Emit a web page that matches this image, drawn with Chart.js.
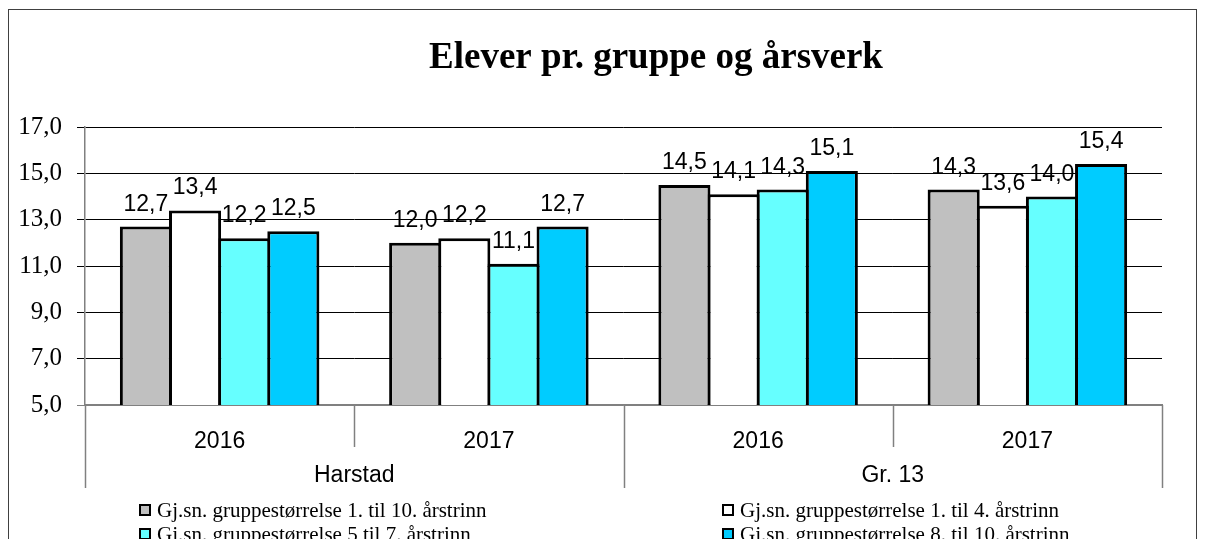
<!DOCTYPE html>
<html>
<head>
<meta charset="utf-8">
<script src="https://cdn.jsdelivr.net/npm/chart.js@4/dist/chart.umd.min.js"></script>
<style>
  html, body { margin: 0; padding: 0; background: #fff; }
  #wrap { width: 1206px; height: 539px; position: relative; }
</style>
</head>
<body>
<div id="wrap"><canvas id="c" width="1206" height="539"></canvas></div>
<script>
// ---- data ----
const categories = ['2016', '2017', '2016', '2017'];
const groups = ['Harstad', 'Harstad', 'Gr. 13', 'Gr. 13'];
const seriesNames = [
  'Gj.sn. gruppestørrelse 1. til 10. årstrinn',
  'Gj.sn. gruppestørrelse 1. til 4. årstrinn',
  'Gj.sn. gruppestørrelse 5 til 7. årstrinn',
  'Gj.sn. gruppestørrelse 8. til 10. årstrinn'
];
const grades1to10 = [12.7, 12.0, 14.5, 14.3];
const grades1to4  = [13.4, 12.2, 14.1, 13.6];
const grades5to7  = [12.2, 11.1, 14.3, 14.0];
const grades8to10 = [12.5, 12.7, 15.1, 15.4];
const yTicks = [5, 7, 9, 11, 13, 15, 17];
const titleText = 'Elever pr. gruppe og årsverk';

const colors = ['#C0C0C0', '#FFFFFF', '#66FFFF', '#00CCFF'];
const fmt = v => v.toFixed(1).replace('.', ',');

const SERIF = '"Liberation Serif", "Times New Roman", serif';
const SANS = '"Liberation Sans", Arial, sans-serif';

const decor = {
  id: 'decor',
  beforeDraw(chart) {
    const ctx = chart.ctx;
    ctx.save();
    ctx.fillStyle = '#fff';
    ctx.fillRect(0, 0, chart.width, chart.height);
    ctx.strokeStyle = '#404040';
    ctx.lineWidth = 1;
    ctx.strokeRect(8.5, 9.5, 1188, 600);
    // title
    ctx.fillStyle = '#000';
    ctx.font = 'bold 37px ' + SERIF;
    ctx.textAlign = 'center';
    ctx.textBaseline = 'alphabetic';
    ctx.fillText(titleText, 656, 68);
    ctx.restore();
  },
  afterDatasetsDraw(chart) {
    const ctx = chart.ctx;
    ctx.save();
    ctx.fillStyle = '#000';
    ctx.font = '23px ' + SANS;
    ctx.textAlign = 'center';
    ctx.textBaseline = 'alphabetic';
    chart.data.datasets.forEach((ds, di) => {
      const meta = chart.getDatasetMeta(di);
      meta.data.forEach((el, i) => {
        ctx.fillText(fmt(ds.data[i]), el.x, el.y - 16);
      });
    });
    ctx.restore();
  },
  afterDraw(chart) {
    const ctx = chart.ctx;
    const xs = chart.scales.x;
    const n = categories.length;
    const cw = (xs.right - xs.left) / n;
    const top = chart.chartArea.bottom;
    ctx.save();
    // separators
    ctx.strokeStyle = '#808080';
    ctx.lineWidth = 1.5;
    for (let i = 0; i <= n; i++) {
      const x = Math.round(xs.left + i * cw) + 0.5;
      const long = (i === 0 || i === n || groups[i] !== groups[i - 1]);
      ctx.beginPath();
      ctx.moveTo(x, top);
      ctx.lineTo(x, long ? 488 : 447);
      ctx.stroke();
    }
    // group labels
    ctx.fillStyle = '#000';
    ctx.font = '23px ' + SANS;
    ctx.textAlign = 'center';
    ctx.textBaseline = 'middle';
    let start = 0;
    for (let i = 1; i <= n; i++) {
      if (i === n || groups[i] !== groups[start]) {
        const cx = xs.left + ((start + i) / 2) * cw;
        ctx.fillText(groups[start], cx, 476);
        start = i;
      }
    }
    // legend (two columns)
    const cols = [139, 722];
    const rows = [510, 534];
    ctx.font = '21px ' + SERIF;
    ctx.textAlign = 'left';
    ctx.textBaseline = 'middle';
    seriesNames.forEach((name, k) => {
      const bx = cols[k % 2];
      const by = rows[Math.floor(k / 2)];
      ctx.fillStyle = colors[k];
      ctx.fillRect(bx, by - 6, 12, 12);
      ctx.strokeStyle = '#000';
      ctx.lineWidth = 2;
      ctx.strokeRect(bx + 1, by - 5, 10, 10);
      ctx.fillStyle = '#000';
      ctx.fillText(name, bx + 18, by + 1);
    });
    ctx.restore();
  }
};

const datasets = [grades1to10, grades1to4, grades5to7, grades8to10].map((d, k) => ({
  label: seriesNames[k],
  data: d,
  backgroundColor: colors[k],
  borderColor: '#000',
  borderWidth: 3,
  borderSkipped: 'bottom',
  barPercentage: 1.06,
  categoryPercentage: 0.73
}));

new Chart(document.getElementById('c'), {
  type: 'bar',
  data: { labels: categories, datasets },
  options: {
    responsive: false,
    animation: false,
    events: [],
    layout: { padding: { top: 127, left: 0, right: 44, bottom: 0 } },
    plugins: { legend: { display: false }, title: { display: false }, tooltip: { enabled: false } },
    scales: {
      x: {
        grid: { display: false },
        border: { display: true, color: '#808080', width: 1.5 },
        ticks: { color: '#000', font: { family: SANS, size: 23 }, padding: 15, maxRotation: 0 },
        afterFit(s) { s.height = 134; }
      },
      y: {
        min: 5, max: 17,
        afterBuildTicks(s) { s.ticks = yTicks.map(v => ({ value: v })); },
        grid: {
          color: c => (c.tick && c.tick.value === 5) ? '#808080' : '#000',
          lineWidth: 1,
          tickLength: 8
        },
        border: { display: true, color: '#808080', width: 1.5 },
        ticks: {
          color: '#000',
          font: { family: SERIF, size: 25 },
          padding: 15,
          callback: v => fmt(v)
        },
        afterFit(s) { s.width = 85; }
      }
    }
  },
  plugins: [decor]
});
</script>
</body>
</html>
